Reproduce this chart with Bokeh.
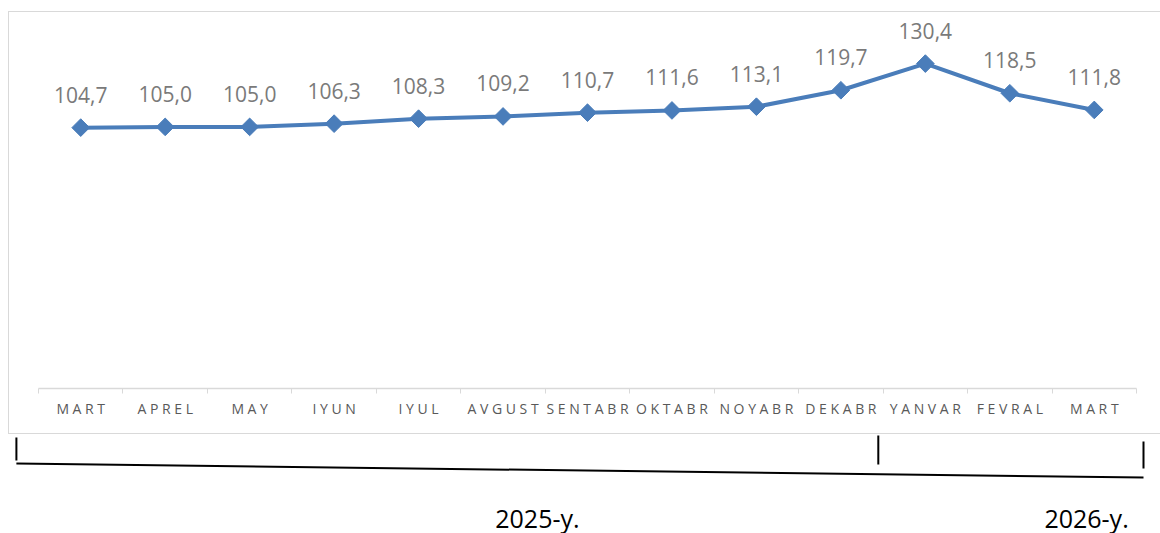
from bokeh.plotting import figure
from bokeh.layouts import column
from bokeh.models import Range1d, FixedTicker, ColumnDataSource, LabelSet
from bokeh.embed import file_html
from bokeh.resources import INLINE
from bokeh.core.properties import value

months = ["MART", "APREL", "MAY", "IYUN", "IYUL", "AVGUST", "SENTABR", "OKTABR",
          "NOYABR", "DEKABR", "YANVAR", "FEVRAL", "MART"]
values = [104.7, 105.0, 105.0, 106.3, 108.3, 109.2, 110.7, 111.6, 113.1, 119.7, 130.4, 118.5, 111.8]
value_labels = ["104,7", "105,0", "105,0", "106,3", "108,3", "109,2", "110,7", "111,6",
                "113,1", "119,7", "130,4", "118,5", "111,8"]
years = ["2025-y.", "2026-y."]

xs = [i + 0.5 for i in range(len(months))]
src = ColumnDataSource(dict(x=xs, y=values, lab=value_labels))

BORDER = "1px solid #d9d9d9"
p = figure(width=1166, height=423, output_backend="svg", toolbar_location=None,
           x_range=Range1d(0, len(months)), y_range=Range1d(0, 147.7),
           min_border_left=29, min_border_right=33, min_border_top=8, min_border_bottom=47,
           y_axis_location=None,
           styles={"margin-left": "8px", "margin-top": "11px",
                   "border-left": BORDER, "border-top": BORDER, "border-bottom": BORDER})
p.frame_align = False
p.outline_line_color = None
p.xgrid.visible = False
p.ygrid.visible = False

ax = p.xaxis[0]
ax.ticker = FixedTicker(ticks=xs, minor_ticks=list(range(len(months) + 1)))
ax.major_label_overrides = {x: " ".join(list(m)) for x, m in zip(xs, months)}
ax.major_tick_out = 0
ax.major_tick_in = 0
ax.minor_tick_out = 5
ax.minor_tick_in = 0
ax.minor_tick_line_color = "#d9d9d9"
ax.axis_line_color = "#d9d9d9"
ax.axis_line_width = 1.5
ax.major_label_text_font = "Open Sans"
ax.major_label_text_font_size = "14px"
ax.major_label_text_color = "#595959"
ax.major_label_standoff = 5

p.line("x", "y", source=src, line_color="#4a7dba", line_width=4)
p.scatter("x", "y", source=src, marker="square", size=12.5, angle=45, angle_units="deg",
          fill_color="#4a7dba", line_color="#4a7dba")

p.add_layout(LabelSet(x="x", y="y", text="lab", source=src, text_align="center",
                      text_baseline="alphabetic", y_offset=25,
                      text_font=value("Open Sans"), text_font_size="21px",
                      text_color="#7a7a7a"))

# lower strip with the year brackets (x in the same category units as the chart)
q = figure(width=1160, height=99, output_backend="svg", toolbar_location=None,
           x_range=Range1d(-38 / 85, (1160 - 38) / 85), y_range=Range1d(533, 434),
           min_border=0, min_border_left=0, min_border_right=0,
           min_border_top=0, min_border_bottom=0,
           x_axis_location=None, y_axis_location=None)
q.frame_align = False
q.outline_line_color = None
q.xgrid.visible = False
q.ygrid.visible = False

bx0, bmid, bx1 = -0.26, 9.88, 13.0
q.segment(x0=[bx0, bx0, bmid, bx1], y0=[437, 463, 435, 441],
          x1=[bx0, bx1, bmid, bx1], y1=[460, 477, 464, 468],
          line_color="black", line_width=2)
ysrc = ColumnDataSource(dict(x=[5.87, 12.33], y=[527, 527], t=years))
q.add_layout(LabelSet(x="x", y="y", text="t", source=ysrc, text_align="center",
                      text_baseline="alphabetic", text_font=value("Open Sans"),
                      text_font_size="25px", text_color="black"))

layout = column(p, q, spacing=0, width=1160, styles={"overflow": "hidden"})
open("out.html", "w").write(file_html(layout, INLINE))
